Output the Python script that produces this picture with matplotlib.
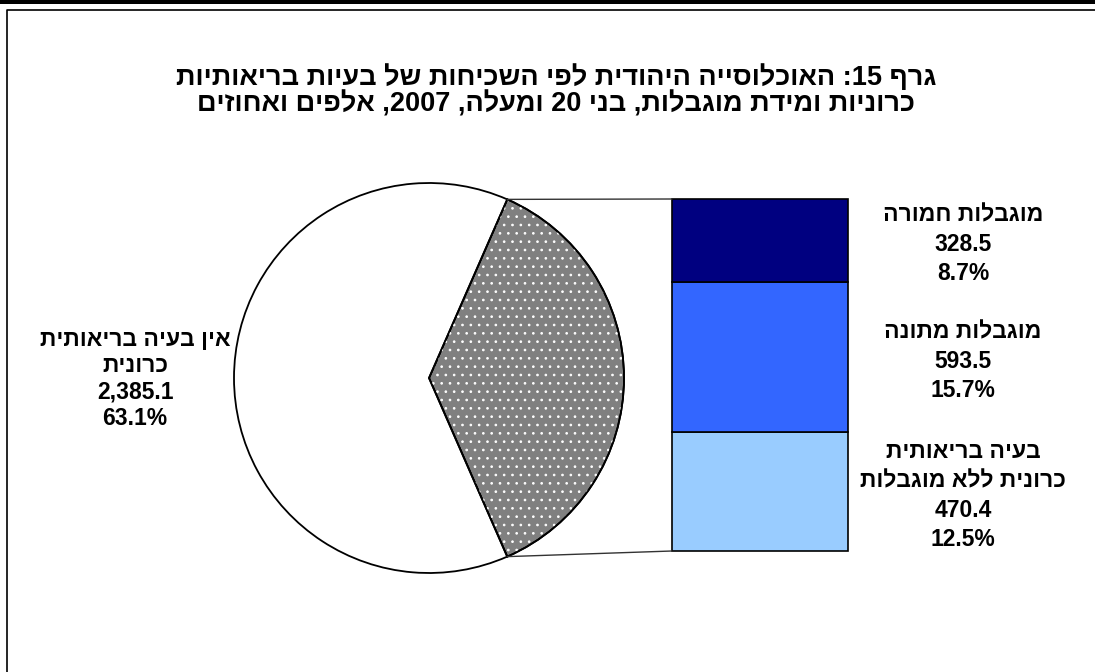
import re
import numpy as np
import matplotlib
matplotlib.use("Agg")
import matplotlib.pyplot as plt
from matplotlib.patches import Wedge, Rectangle, ConnectionPatch
from matplotlib.lines import Line2D
from matplotlib.transforms import offset_copy, blended_transform_factory

# ---- data (thousands) ----
title_lines = [
    "גרף 15: האוכלוסייה היהודית לפי השכיחות של בעיות בריאותיות",
    "כרוניות ומידת מוגבלות, בני 20 ומעלה, 2007, אלפים ואחוזים",
]
pie_label = ["אין בעיה בריאותית", "כרונית"]
pie_value = 2385.1

bar_labels = [
    ["בעיה בריאותית", "כרונית ללא מוגבלות"],
    ["מוגבלות מתונה"],
    ["מוגבלות חמורה"],
]
bar_values = [470.4, 593.5, 328.5]          # bottom -> top
bar_colors = ["#99CCFF", "#3366FF", "#000080"]

FONT = ["Liberation Sans", "DejaVu Sans"]
plt.rcParams["font.family"] = FONT
plt.rcParams["hatch.linewidth"] = 0.7


def visual(s):
    """Reorder a right-to-left string for left-to-right drawing, keeping numbers intact."""
    r = s[::-1]
    return re.sub(r"%?\d(?:[\d.,]*\d)?", lambda m: m.group()[::-1], r)


W, H = 1095, 672
fig = plt.figure(figsize=(W / 100, H / 100), dpi=100)
ax = fig.add_axes([0, 0, 1, 1])

grand_total = pie_value + sum(bar_values)
rest = sum(bar_values)
half = 180.0 * rest / grand_total
cx, cy, R = 429, H - 378, 195

ax.pie([rest, pie_value], center=(cx, cy), radius=R,
       startangle=-half, counterclock=True,
       colors=["#808080", "white"],
       wedgeprops=dict(edgecolor="black", linewidth=1.3))
# dotted fill on the grouped slice
ax.add_patch(Wedge((cx, cy), R, -half, half, facecolor="none", edgecolor="white",
                   linewidth=0, hatch=".."))
ax.add_patch(Wedge((cx, cy), R, -half, half, fill=False, edgecolor="black", linewidth=1.3))

ax.set_xlim(0, W)
ax.set_ylim(0, H)
ax.set_aspect("auto")
ax.axis("off")

# ---- stacked breakdown bar ----
axb = fig.add_axes([672 / W, (H - 551) / H, 176 / W, 352 / H])
bottom = 0.0
mids = []
for v, c in zip(bar_values, bar_colors):
    axb.bar(0, v, width=1, bottom=bottom, align="edge", color=c,
            edgecolor="black", linewidth=1.2, clip_on=False)
    mids.append(bottom + v / 2)
    bottom += v
axb.set_xlim(0, 1)
axb.set_ylim(0, rest)
axb.axis("off")

# connector lines
for ang, yb in ((half, rest), (-half, 0)):
    px = cx + R * np.cos(np.radians(ang))
    py = cy + R * np.sin(np.radians(ang))
    fig.add_artist(ConnectionPatch(xyA=(px, py), coordsA=ax.transData,
                                   xyB=(0, yb), coordsB=axb.transData,
                                   color="#333333", linewidth=1.0))

# ---- labels ----
FS = 16.5
label_tf = offset_copy(blended_transform_factory(axb.transAxes, axb.transData),
                       fig=fig, y=-4, units="dots")
for lbl, v, m in zip(bar_labels, bar_values, mids):
    lines = [visual(t) for t in lbl] + [f"{v:,.1f}", f"{100 * v / grand_total:.1f}%"]
    axb.text((963 - 672) / 176, m, "\n".join(lines), transform=label_tf,
             ha="center", va="center", multialignment="center", fontsize=FS,
             fontweight="bold", linespacing=1.35, family=FONT)

left_lines = [visual(t) for t in pie_label] + [f"{pie_value:,.1f}",
                                               f"{100 * pie_value / grand_total:.1f}%"]
ax.text(135, cy - 1, "\n".join(left_lines), ha="center", va="center",
        multialignment="center", fontsize=FS, fontweight="bold",
        linespacing=1.19, family=FONT)

for t, yl in zip(title_lines, (77.5, 104)):
    ax.text(556, H - yl, visual(t), ha="center", va="center",
            fontsize=19.5, fontweight="bold", family=FONT)

# ---- frame ----
fig.add_artist(Rectangle((0, H - 4), W, 4, transform=None, facecolor="black",
                         edgecolor="none"))
fig.add_artist(Line2D([7, 7, W], [0, H - 9.5, H - 9.5], transform=None,
                      color="black", linewidth=1.2))

fig.savefig("out.png", dpi=100)
